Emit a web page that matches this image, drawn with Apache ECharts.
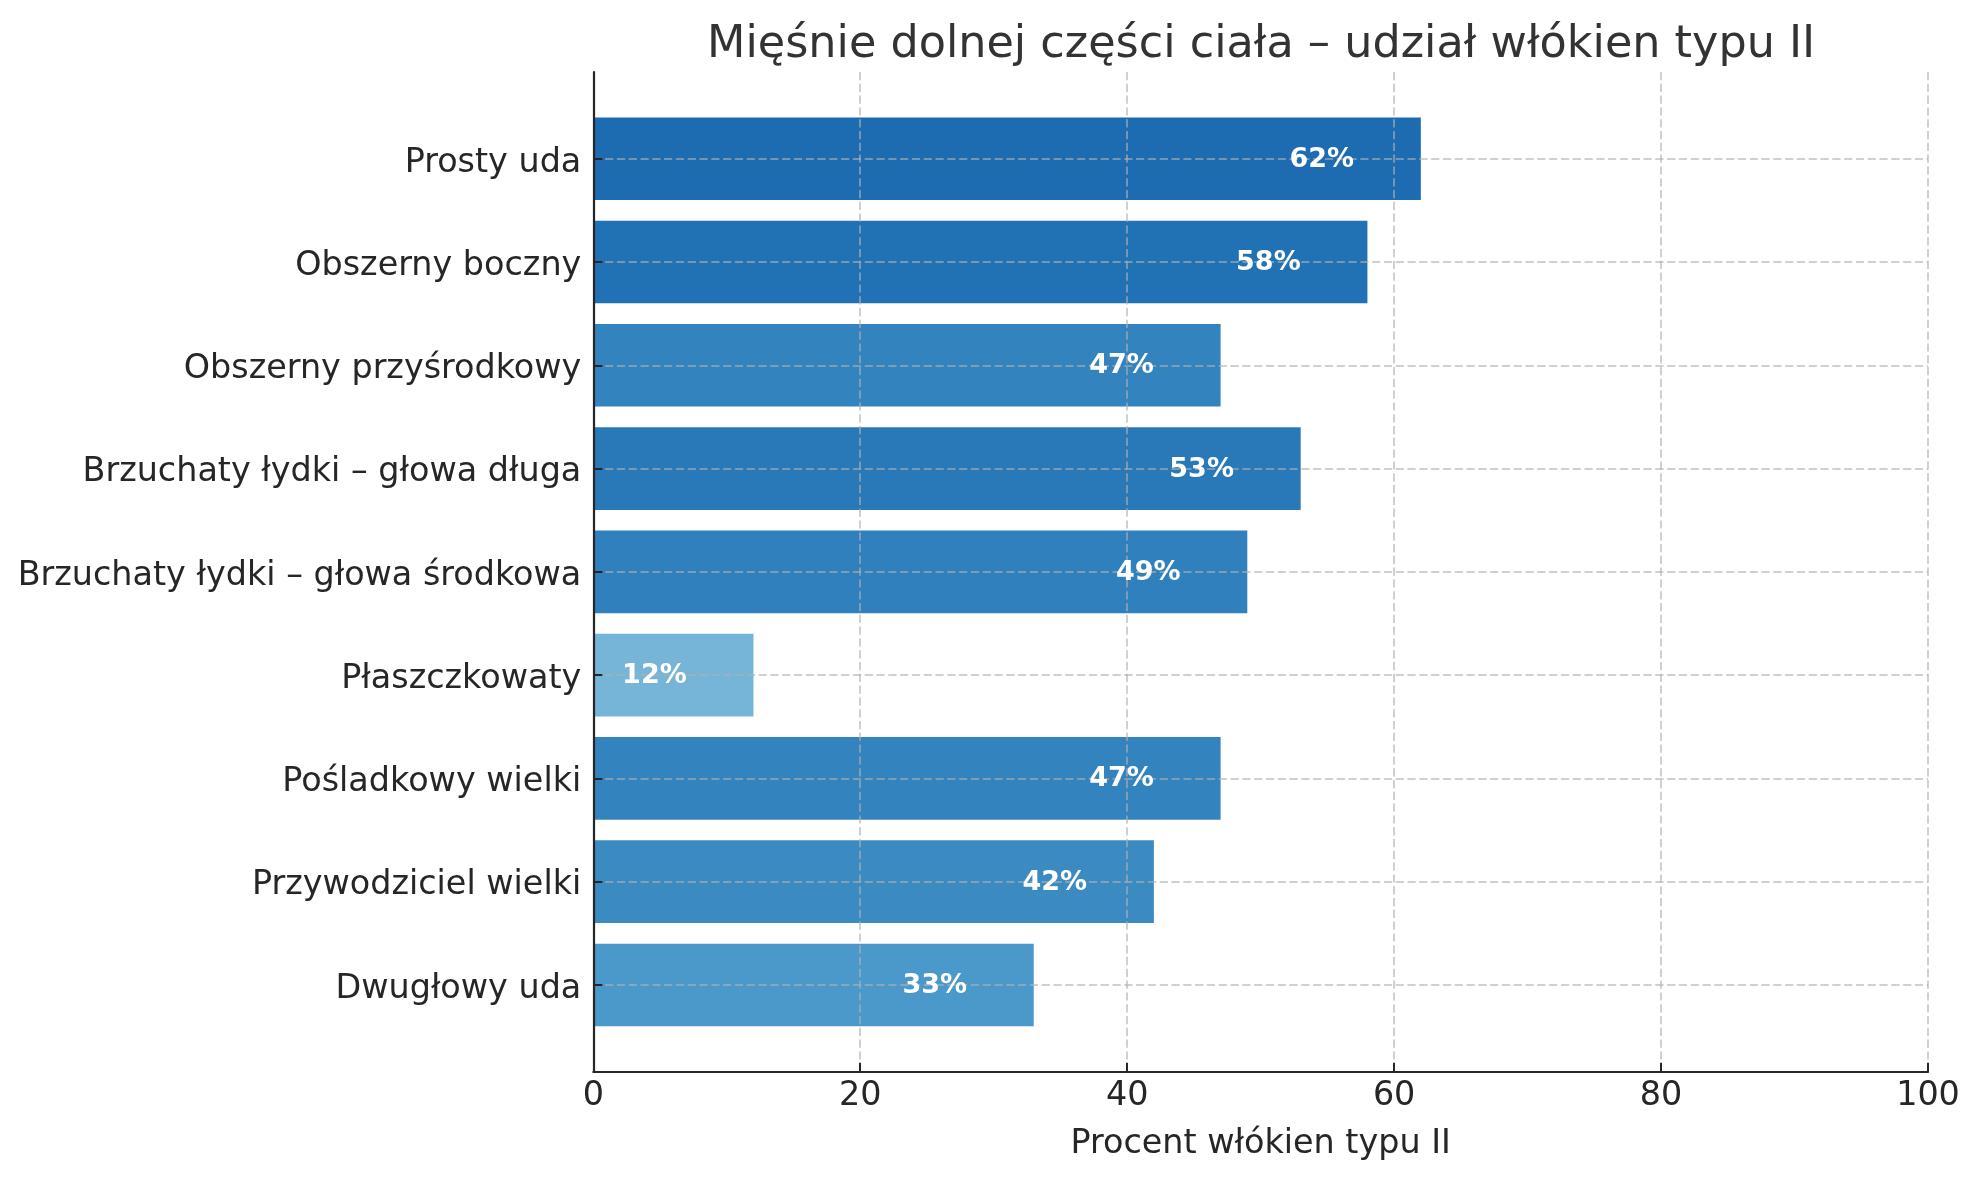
<!DOCTYPE html>
<html>
<head>
<meta charset="utf-8">
<script src="https://cdn.jsdelivr.net/npm/echarts@6/dist/echarts.min.js"></script>
<style>
  html, body { margin: 0; padding: 0; background: #fff; }
  #chart { width: 1979px; height: 1180px; }
</style>
</head>
<body>
<div id="chart"></div>
<script>
const categories = [
  'Prosty uda',
  'Obszerny boczny',
  'Obszerny przyśrodkowy',
  'Brzuchaty łydki – głowa długa',
  'Brzuchaty łydki – głowa środkowa',
  'Płaszczkowaty',
  'Pośladkowy wielki',
  'Przywodziciel wielki',
  'Dwugłowy uda'
];
const values = [62, 58, 47, 53, 49, 12, 47, 42, 33];
const xTicks = [0, 20, 40, 60, 80, 100];
const titleText = 'Mięśnie dolnej części ciała – udział włókien typu II';
const xAxisName = 'Procent włókien typu II';

// style only
const barColors = ['#1d6bb1', '#2171b5', '#3383be', '#2979b9', '#3080bd', '#76b4d8', '#3383be', '#3b8bc2', '#4b98ca'];
const FONT = '"DejaVu Sans", "Noto Sans", sans-serif';
const gridLine = { show: true, lineStyle: { color: 'rgba(176,176,176,0.6)', width: 2, type: [8.2, 3.6] } };
const LABEL_NUDGE = 0.04; // small downward nudge so cap height centres on tick

const catIdx = categories.map((c, i) => i);
const labelPos = catIdx.map((i) => i + LABEL_NUDGE);
const data = values.map((v, i) => [v, i]);

const chart = echarts.init(document.getElementById('chart'), null, { renderer: 'canvas' });
chart.setOption({
  backgroundColor: '#ffffff',
  animation: false,
  title: {
    text: titleText,
    left: 702,
    top: 18,
    textStyle: { fontFamily: FONT, fontSize: 44.5, fontWeight: 'normal', color: '#333333' }
  },
  grid: { left: 593.3, right: 51, top: 72, bottom: 108.3, containLabel: false },
  xAxis: {
    type: 'value',
    min: 0, max: 100, interval: 20,
    z: 3,
    name: xAxisName,
    nameLocation: 'middle',
    nameGap: 56,
    nameTextStyle: { fontFamily: FONT, fontSize: 33.4, color: '#262626' },
    axisLine: { show: true, onZero: false, lineStyle: { color: '#262626', width: 2.2 } },
    axisTick: { show: true, inside: true, length: 9, lineStyle: { color: '#262626', width: 2 } },
    axisLabel: { show: true, margin: 8, fontFamily: FONT, fontSize: 33.4, color: '#262626',
      customValues: xTicks },
    splitLine: gridLine
  },
  yAxis: {
    type: 'value',
    inverse: true,
    min: -0.84, max: 8.84,
    z: 3,
    axisLine: { show: true, onZero: false, lineStyle: { color: '#262626', width: 2.2 } },
    axisTick: { show: true, inside: true, length: 9, lineStyle: { color: '#262626', width: 2 },
      customValues: catIdx },
    axisLabel: { show: true, margin: 12, fontFamily: FONT, fontSize: 33.4, color: '#262626',
      customValues: labelPos,
      formatter: (v) => categories[Math.round(v)] ?? '' },
    splitLine: gridLine
  },
  series: [
    {
      type: 'custom',
      z: 1,
      encode: { x: 0, y: 1 },
      data: data,
      renderItem: (params, api) => {
        const v = api.value(0), i = api.value(1);
        const p0 = api.coord([0, i]);
        const p1 = api.coord([v, i]);
        const h = api.size([0, 0.8])[1];
        return {
          type: 'rect',
          shape: { x: p0[0], y: p0[1] - h / 2, width: p1[0] - p0[0], height: h },
          style: { fill: barColors[params.dataIndex] }
        };
      }
    },
    {
      type: 'custom',
      z: 5,
      encode: { x: 0, y: 1 },
      data: data,
      renderItem: (params, api) => {
        const v = api.value(0), i = api.value(1);
        const p = api.coord([v - 5, i]);
        return {
          type: 'text',
          x: p[0], y: p[1] + 1,
          style: {
            text: v + '%',
            fill: '#ffffff',
            font: 'bold 27px ' + FONT,
            align: 'right',
            verticalAlign: 'middle'
          }
        };
      }
    }
  ]
});
</script>
</body>
</html>
